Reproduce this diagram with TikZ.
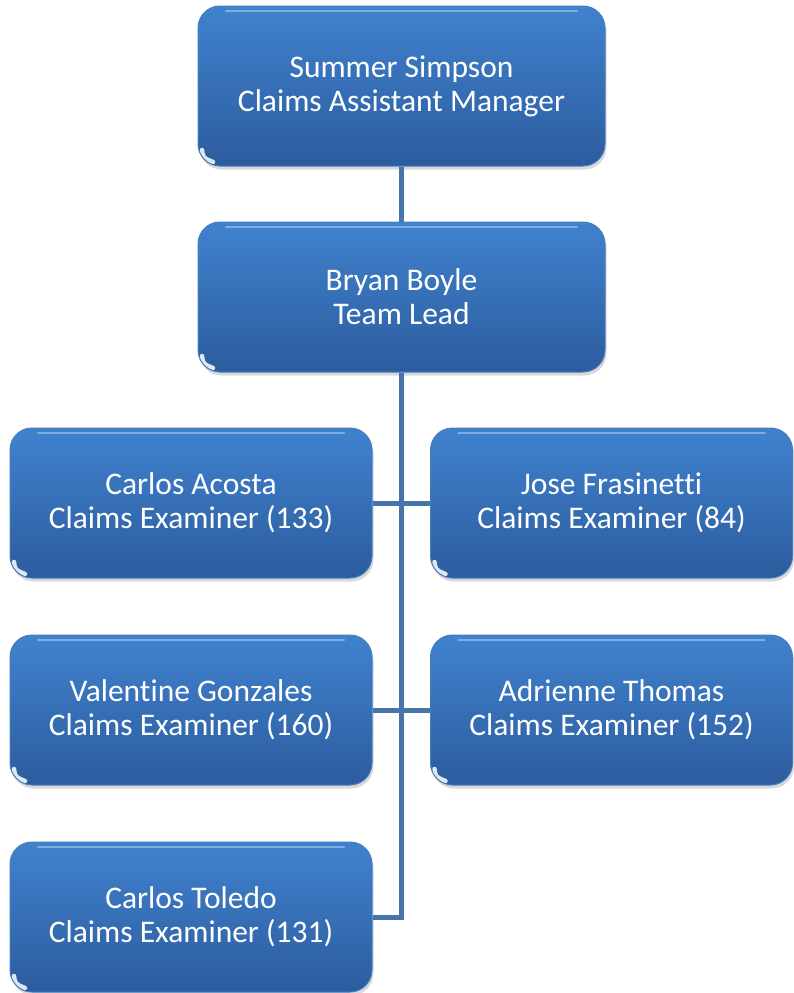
\documentclass[tikz,border=0pt]{standalone}
\usepackage{fontspec}
\setmainfont{Carlito}[Ligatures=NoCommon]
\usetikzlibrary{shadows}
\definecolor{boxtop}{RGB}{64,130,206}
\definecolor{boxbot}{RGB}{44,92,158}
\definecolor{boxedge}{RGB}{70,125,190}
\definecolor{conn}{RGB}{72,116,172}
\tikzset{
  card/.style={draw=boxedge, line width=1pt, rounded corners=22pt,
    top color=boxtop, bottom color=boxbot, text=white,
    font=\fontsize{31.5}{34}\selectfont, align=center, inner sep=0pt,
    drop shadow={opacity=0.3, shadow xshift=1.5pt, shadow yshift=-3.5pt},
    path picture={
      \draw[white, line width=2.5pt, opacity=0.35, line cap=round]
        ([xshift=28pt,yshift=-5pt]path picture bounding box.north west) --
        ([xshift=-28pt,yshift=-5pt]path picture bounding box.north east);
      \draw[white, line width=4.5pt, opacity=0.85, line cap=round]
        ([xshift=4pt,yshift=16pt]path picture bounding box.south west) ..
        controls ([xshift=5pt,yshift=8pt]path picture bounding box.south west) ..
        ([xshift=15pt,yshift=4pt]path picture bounding box.south west);
    }},
  wide/.style={card, minimum width=407pt},
  half/.style={card, minimum width=362pt, minimum height=150pt},
  link/.style={draw=conn, line width=5pt}
}
\begin{document}
\begin{tikzpicture}[x=1pt,y=-1pt]
\useasboundingbox (0,0) rectangle (793,993);
\node[wide, minimum height=160pt] (boss) at (401.5,86) {Summer Simpson\\Claims Assistant Manager};
\node[wide, minimum height=150pt] (lead) at (401.5,297) {Bryan Boyle\\Team Lead};
\node[half] (acosta) at (191,503) {Carlos Acosta\\Claims Examiner (133)};
\node[half] (fras) at (611.5,503) {Jose Frasinetti\\Claims Examiner (84)};
\node[half] (gonz) at (191,710) {Valentine Gonzales\\Claims Examiner (160)};
\node[half] (thomas) at (611.5,710) {Adrienne Thomas\\Claims Examiner (152)};
\node[half] (toledo) at (191,917) {Carlos Toledo\\Claims Examiner (131)};
\draw[link] (boss.south) -- (lead.north);
\draw[link] (lead.south) |- (toledo.east);
\draw[link] (acosta.east) -- (fras.west);
\draw[link] (gonz.east) -- (thomas.west);
\end{tikzpicture}
\end{document}
